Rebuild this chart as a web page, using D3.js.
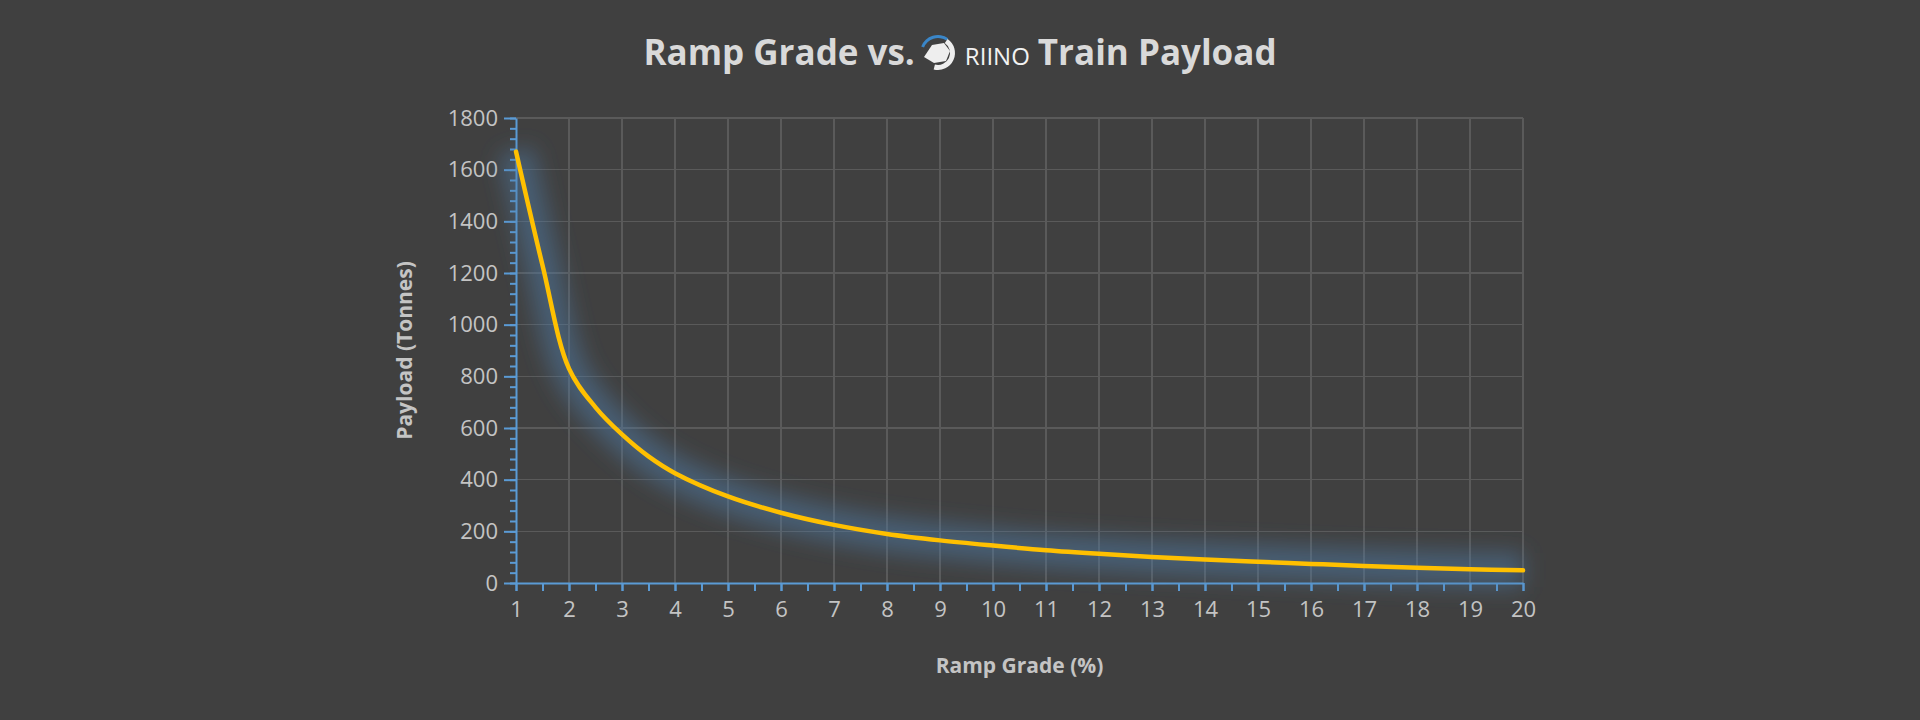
<!DOCTYPE html>
<html lang="en">
<head>
<meta charset="UTF-8">
<title>Ramp Grade vs. RIINO Train Payload</title>
<script src="https://d3js.org/d3.v7.min.js"></script>
<style>
  body { margin: 0; background: #404040; font-family: "Open Sans", sans-serif; }
  .grid-line { stroke: #5a5a5a; stroke-width: 1.5; shape-rendering: crispEdges; }
  .axis path, .axis line { stroke: #5b9bd5; stroke-width: 2; }
  .axis text { fill: #c4c4c4; font-size: 22px; font-family: "Open Sans", sans-serif; }
</style>
</head>
<body>
<script>
// data
const grades = [1, 1.5, 2, 2.5, 3, 3.5, 4, 5, 6, 7, 8, 9, 10, 11, 12, 13, 14, 15, 16, 17, 18, 19, 20];
const payload = [1670, 1230, 830, 680, 575, 490, 425, 335, 272, 225, 190, 165, 145, 127, 113, 101, 91, 82, 74, 66, 59, 53, 49];
const yTicks = [0, 200, 400, 600, 800, 1000, 1200, 1400, 1600, 1800];
const xTicks = d3.range(1, 21);

const W = 1920, H = 720;
const margin = { top: 118, right: 397, bottom: 137, left: 516 };
const width = W - margin.left - margin.right,
      height = H - margin.top - margin.bottom;

const root = d3.select("body").append("svg").attr("width", W).attr("height", H);
root.append("rect").attr("width", W).attr("height", H).attr("fill", "#404040");

const defs = root.append("defs");
defs.append("filter").attr("id", "glow").attr("x", "-20%").attr("y", "-20%").attr("width", "140%").attr("height", "140%")
  .append("feGaussianBlur").attr("stdDeviation", 11);

// title
const title = root.append("text").attr("x", 960).attr("y", 65).attr("text-anchor", "middle")
  .attr("fill", "#d9d9d9").style("font-size", "35px").style("font-weight", "bold");
title.append("tspan").text("Ramp Grade vs.");
title.append("tspan").attr("dx", 50).style("font-size", "24px").style("font-weight", "normal").attr("fill", "#f2f2f2").text("RIINO");
title.append("tspan").attr("dx", 8).text("Train Payload");
// small rhino-ish logo mark
const logo = root.append("g").attr("transform", "translate(938,53)");
logo.append("path").attr("d", d3.arc()({ innerRadius: 15, outerRadius: 18, startAngle: -1.2, endAngle: 0.6 })).attr("fill", "#3a86c8");
logo.append("path").attr("d", d3.arc()({ innerRadius: 12, outerRadius: 17, startAngle: 0.6, endAngle: 3.4 })).attr("fill", "#eeeeee");
logo.append("path").attr("d", "M-14,4 L-6,-8 L6,-10 L12,-2 L8,8 L-4,10 Z").attr("fill", "#eeeeee");

const svg = root.append("g").attr("transform", `translate(${margin.left},${margin.top})`);

const x = d3.scaleLinear().domain([1, 20]).range([0, width]);
const y = d3.scaleLinear().domain([0, 1800]).range([height, 0]);

svg.selectAll(".gy").data(yTicks.slice(1)).enter().append("line").attr("class", "grid-line")
  .attr("x1", 0).attr("x2", width).attr("y1", d => y(d)).attr("y2", d => y(d));
svg.selectAll(".gx").data(xTicks.slice(1)).enter().append("line").attr("class", "grid-line")
  .attr("y1", 0).attr("y2", height).attr("x1", d => x(d)).attr("x2", d => x(d));

// minor ticks
svg.append("g").attr("class", "axis").attr("transform", `translate(0,${height})`)
  .call(d3.axisBottom(x).tickValues(d3.range(1, 20.01, 0.5)).tickSize(8).tickFormat(""))
  .call(g => g.select(".domain").remove());
svg.append("g").attr("class", "axis")
  .call(d3.axisLeft(y).tickValues(d3.range(0, 1801, 40)).tickSize(6).tickFormat(""))
  .call(g => g.select(".domain").remove());

svg.append("g").attr("class", "axis").attr("transform", `translate(0,${height})`)
  .call(d3.axisBottom(x).tickValues(xTicks).tickSize(8).tickPadding(10).tickSizeOuter(0).tickFormat(d3.format("d")));
svg.append("g").attr("class", "axis")
  .call(d3.axisLeft(y).tickValues(yTicks).tickSize(12).tickPadding(6).tickSizeOuter(0).tickFormat(d3.format("d")));

const pts = grades.map((g, i) => [g, payload[i]]);
const line = d3.line().x(d => x(d[0])).y(d => y(d[1])).curve(d3.curveCatmullRom.alpha(0.5));

svg.append("path").datum(pts).attr("d", line).attr("fill", "none")
  .attr("stroke", "#4f7da8").attr("stroke-opacity", 0.5).attr("stroke-width", 34).attr("filter", "url(#glow)");
svg.append("path").datum(pts).attr("d", line).attr("fill", "none")
  .attr("stroke", "#ffc000").attr("stroke-width", 4.5).attr("stroke-linecap", "round");

root.append("text").attr("x", margin.left + width / 2).attr("y", 673).attr("text-anchor", "middle")
  .attr("fill", "#c4c4c4").style("font-size", "21px").style("font-weight", "bold").text("Ramp Grade (%)");
root.append("text").attr("transform", `translate(412,${margin.top + height / 2}) rotate(-90)`).attr("text-anchor", "middle")
  .attr("fill", "#c4c4c4").style("font-size", "21px").style("font-weight", "bold").text("Payload (Tonnes)");
</script>
</body>
</html>
